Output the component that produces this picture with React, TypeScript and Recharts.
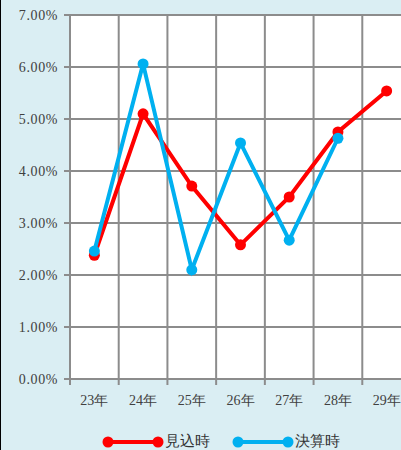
import { LineChart, Line, XAxis, YAxis, CartesianGrid } from 'recharts';

const categories = ['23年', '24年', '25年', '26年', '27年', '28年', '29年'];
const mikomi = [2.38, 5.1, 3.71, 2.58, 3.5, 4.75, 5.54];
const kessan = [2.46, 6.06, 2.1, 4.54, 2.67, 4.63, null];
const yTicks = [0, 1, 2, 3, 4, 5, 6, 7];

const data = categories.map((cat, i) => ({
  x: i + 0.5,
  cat,
  mikomi: mikomi[i],
  kessan: kessan[i],
}));

const RED = '#FF0000';
const BLUE = '#00B0F0';
const GRID = '#8C8C8C';
const FONT = 'Liberation Serif, DejaVu Serif, serif';

const boundaryTicks = categories.map((_, i) => i).concat(categories.length);
const centerTicks = categories.map((_, i) => i + 0.5);

function LegendItem({ color, label }: { color: string; label: string }) {
  return (
    <div style={{ display: 'flex', alignItems: 'center', marginRight: 22 }}>
      <svg width={62} height={14}>
        <line x1={6} y1={7} x2={56} y2={7} stroke={color} strokeWidth={4} />
        <circle cx={6} cy={7} r={5.5} fill={color} />
        <circle cx={56} cy={7} r={5.5} fill={color} />
      </svg>
      <span style={{ fontFamily: FONT, fontSize: 15, color: '#333', marginLeft: 1 }}>
        {label}
      </span>
    </div>
  );
}

export default function App() {
  return (
    <div
      style={{
        position: 'fixed',
        left: 0,
        top: 0,
        width: 401,
        height: 450,
        overflow: 'hidden',
        background: '#DAEEF3',
        boxSizing: 'border-box',
        borderLeft: '1px solid #000',
      }}
    >
      <LineChart width={420} height={420} data={data} margin={{ top: 15, right: 10, left: 0, bottom: 5 }}>
        <CartesianGrid xAxisId="b" stroke={GRID} strokeWidth={2} fill="#FFFFFF" fillOpacity={1} />
        <XAxis
          xAxisId="b"
          dataKey="x"
          type="number"
          domain={[0, 7]}
          ticks={boundaryTicks}
          tick={() => <g />}
          tickSize={6}
          height={6}
          stroke={GRID}
          strokeWidth={2}
        />
        <XAxis
          xAxisId="c"
          dataKey="x"
          type="number"
          domain={[0, 7]}
          ticks={centerTicks}
          tickFormatter={(v: number) => categories[Math.floor(v)]}
          axisLine={false}
          tickLine={false}
          height={30}
          tickMargin={4}
          tick={{ fill: '#404040', fontSize: 14, fontFamily: FONT }}
        />
        <YAxis
          type="number"
          domain={[0, 7]}
          ticks={yTicks}
          tickFormatter={(v: number) => `${v.toFixed(2)}%`}
          width={69}
          tickSize={6}
          tickMargin={6}
          stroke={GRID}
          strokeWidth={2}
          tick={{ fill: '#404040', fontSize: 14, fontFamily: FONT, letterSpacing: 0.6 }}
        />
        <Line
          xAxisId="b"
          dataKey="mikomi"
          stroke={RED}
          strokeWidth={4}
          dot={{ r: 5.5, fill: RED, stroke: RED, strokeWidth: 0 }}
          isAnimationActive={false}
        />
        <Line
          xAxisId="b"
          dataKey="kessan"
          stroke={BLUE}
          strokeWidth={4}
          dot={{ r: 5.5, fill: BLUE, stroke: BLUE, strokeWidth: 0 }}
          isAnimationActive={false}
        />
      </LineChart>
      <div style={{ position: 'absolute', left: 101, top: 432, display: 'flex' }}>
        <LegendItem color={RED} label="見込時" />
        <LegendItem color={BLUE} label="決算時" />
      </div>
    </div>
  );
}
